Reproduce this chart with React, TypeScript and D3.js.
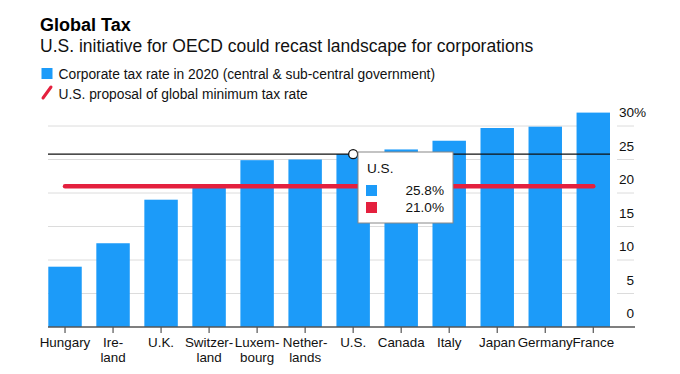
import React from "react";
import * as d3 from "d3";

const categories = ["Hungary", "Ireland", "U.K.", "Switzerland", "Luxembourg", "Netherlands", "U.S.", "Canada", "Italy", "Japan", "Germany", "France"];
const categoryLabels = [["Hungary"], ["Ire-", "land"], ["U.K."], ["Switzer-", "land"], ["Luxem-", "bourg"], ["Nether-", "lands"], ["U.S."], ["Canada"], ["Italy"], ["Japan"], ["Germany"], ["France"]];
const taxRates = [9.0, 12.5, 19.0, 21.1, 24.9, 25.0, 25.8, 26.5, 27.8, 29.7, 29.9, 32.0];
const proposal = 21.0;
const yTicks = [0, 5, 10, 15, 20, 25, 30];
const hoverCategory = "U.S.";

const BLUE = "#1c9bf9";
const RED = "#e4203e";
const FONT = "'Liberation Sans', Arial, Helvetica, sans-serif";

export default function App() {
  const W = 680, H = 374;
  const x = d3.scaleBand<string>().domain(categories).range([48.3, 610]).paddingInner(0.3035).paddingOuter(0);
  const y = d3.scaleLinear().domain([0, 30]).range([327, 126]);
  const bw = x.bandwidth();
  const cx = (c: string) => (x(c) as number) + bw / 2;
  const hoverIdx = categories.indexOf(hoverCategory);
  const hoverVal = taxRates[hoverIdx];
  const hx = cx(hoverCategory);
  const hy = y(hoverVal);

  return (
    <svg width={W} height={H} style={{ position: "absolute", left: 0, top: 0, background: "#fff" }} fontFamily={FONT}>
      <rect x={0} y={0} width={W} height={H} fill="#fff" />
      <text x={40} y={30.5} fontSize={18} fontWeight="bold" fill="#000">Global Tax</text>
      <text x={40} y={51.5} fontSize={17.5} fill="#111">U.S. initiative for OECD could recast landscape for corporations</text>

      <rect x={41.5} y={68} width={11} height={11} fill={BLUE} />
      <text x={58.5} y={79} fontSize={13.8} fill="#111">Corporate tax rate in 2020 (central &amp; sub-central government)</text>
      <line x1={43} y1={98} x2={51} y2={87} stroke={RED} strokeWidth={3} strokeLinecap="round" />
      <text x={58.5} y={99} fontSize={13.8} fill="#111">U.S. proposal of global minimum tax rate</text>

      {/* gridlines */}
      {yTicks.filter((t) => t > 0).map((t) => (
        <g key={"g" + t}>
          <line x1={48} x2={610} y1={y(t)} y2={y(t)} stroke="#dcdcdc" strokeWidth={1} />
          <line x1={617} x2={634} y1={y(t)} y2={y(t)} stroke="#dcdcdc" strokeWidth={1} />
        </g>
      ))}

      {/* bars */}
      {categories.map((c, i) => (
        <rect key={c} x={x(c)} y={y(taxRates[i])} width={bw} height={y(0) - y(taxRates[i])} fill={BLUE} />
      ))}

      {/* hover line */}
      <line x1={48} x2={610} y1={hy} y2={hy} stroke="#111" strokeWidth={1.2} />

      {/* proposal line */}
      <line x1={cx(categories[0])} x2={cx(categories[categories.length - 1])} y1={y(proposal)} y2={y(proposal)} stroke={RED} strokeWidth={4.5} strokeLinecap="round" />

      {/* axis */}
      <line x1={48} x2={635} y1={y(0)} y2={y(0)} stroke="#555" strokeWidth={1.5} />
      {categories.map((c) => (
        <line key={"t" + c} x1={cx(c)} x2={cx(c)} y1={y(0)} y2={y(0) + 6} stroke="#555" strokeWidth={1.2} />
      ))}
      {categories.map((c, i) => (
        <text key={"l" + c} x={cx(c)} y={346.5} fontSize={13.4} fill="#111" textAnchor="middle">
          {categoryLabels[i].map((ln, j) => (
            <tspan key={j} x={cx(c)} dy={j === 0 ? 0 : 15.5}>{ln}</tspan>
          ))}
        </text>
      ))}

      {/* y tick labels */}
      {yTicks.map((t) => (
        <g key={"yl" + t}>
          <text x={634} y={y(t) - 9} fontSize={13.6} fill="#111" textAnchor="end">{t}</text>
          {t === 30 && <text x={634} y={y(t) - 9} fontSize={13.6} fill="#111">%</text>}
        </g>
      ))}

      {/* tooltip */}
      <circle cx={hx} cy={hy} r={4.5} fill="#fff" stroke="#111" strokeWidth={1.3} />
      <rect x={358} y={152} width={95} height={71} fill="#fff" stroke="#888" strokeWidth={1} />
      <text x={367} y={173} fontSize={13.6} fill="#111">{hoverCategory}</text>
      <rect x={366} y={185} width={11} height={11} fill={BLUE} />
      <text x={444} y={195} fontSize={13.6} fill="#111" textAnchor="end">{hoverVal.toFixed(1)}%</text>
      <rect x={366} y={202} width={11} height={11} fill={RED} />
      <text x={444} y={212} fontSize={13.6} fill="#111" textAnchor="end">{proposal.toFixed(1)}%</text>
    </svg>
  );
}
